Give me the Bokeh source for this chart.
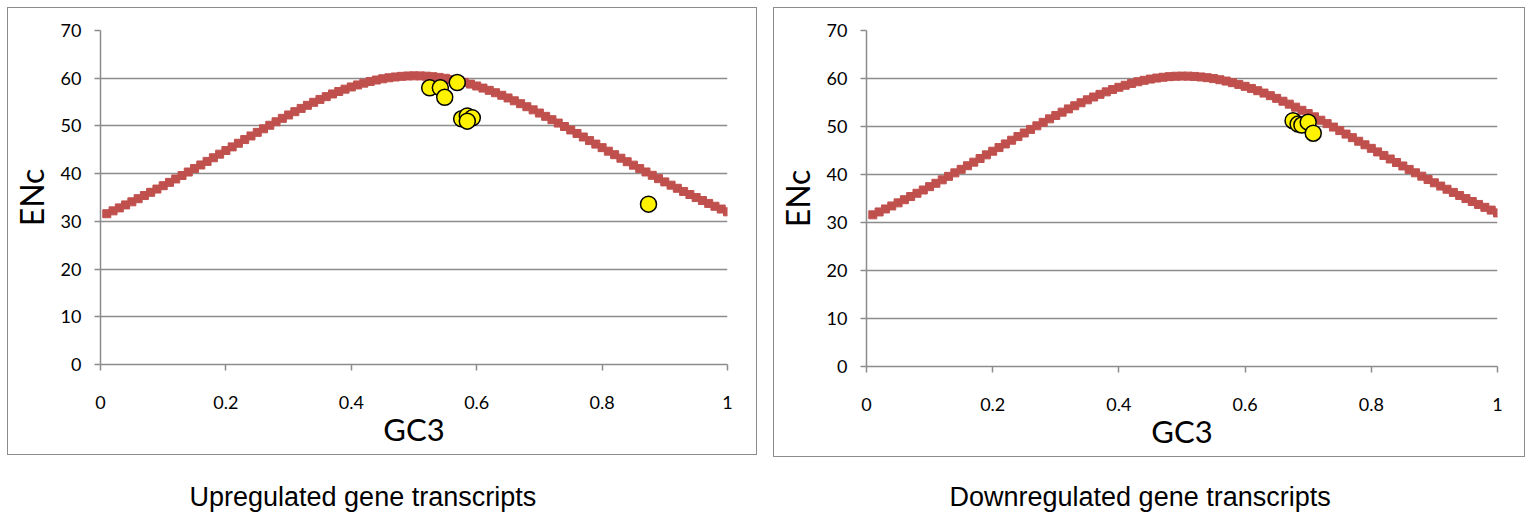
from bokeh.plotting import figure
from bokeh.layouts import column, row
from bokeh.models import Range1d, FixedTicker, Title, Spacer
from bokeh.embed import file_html
from bokeh.resources import INLINE

# Expected ENc curve (GC3, ENc)
curve_gc3 = [0.01, 0.02, 0.03, 0.04, 0.05, 0.06, 0.07, 0.08, 0.09, 0.10,
             0.11, 0.12, 0.13, 0.14, 0.15, 0.16, 0.17, 0.18, 0.19, 0.20,
             0.21, 0.22, 0.23, 0.24, 0.25, 0.26, 0.27, 0.28, 0.29, 0.30,
             0.31, 0.32, 0.33, 0.34, 0.35, 0.36, 0.37, 0.38, 0.39, 0.40,
             0.41, 0.42, 0.43, 0.44, 0.45, 0.46, 0.47, 0.48, 0.49, 0.50,
             0.51, 0.52, 0.53, 0.54, 0.55, 0.56, 0.57, 0.58, 0.59, 0.60,
             0.61, 0.62, 0.63, 0.64, 0.65, 0.66, 0.67, 0.68, 0.69, 0.70,
             0.71, 0.72, 0.73, 0.74, 0.75, 0.76, 0.77, 0.78, 0.79, 0.80,
             0.81, 0.82, 0.83, 0.84, 0.85, 0.86, 0.87, 0.88, 0.89, 0.90,
             0.91, 0.92, 0.93, 0.94, 0.95, 0.96, 0.97, 0.98, 0.99, 1.00]
curve_enc = [31.60, 32.20, 32.82, 33.45, 34.09, 34.75, 35.41, 36.09, 36.77, 37.47,
             38.17, 38.89, 39.61, 40.34, 41.08, 41.82, 42.57, 43.33, 44.09, 44.85,
             45.61, 46.37, 47.14, 47.90, 48.65, 49.40, 50.14, 50.87, 51.59, 52.30,
             52.99, 53.67, 54.32, 54.95, 55.56, 56.14, 56.70, 57.22, 57.71, 58.17,
             58.59, 58.97, 59.32, 59.62, 59.88, 60.09, 60.26, 60.39, 60.47, 60.50,
             60.49, 60.43, 60.32, 60.17, 59.98, 59.74, 59.46, 59.13, 58.77, 58.37,
             57.93, 57.46, 56.96, 56.42, 55.86, 55.27, 54.66, 54.03, 53.37, 52.70,
             52.01, 51.31, 50.60, 49.88, 49.15, 48.42, 47.68, 46.93, 46.19, 45.45,
             44.71, 43.97, 43.23, 42.50, 41.78, 41.06, 40.35, 39.65, 38.95, 38.27,
             37.59, 36.93, 36.27, 35.63, 34.99, 34.37, 33.76, 33.16, 32.58, 32.00]

# Observed genes
up_gc3 = [0.525, 0.542, 0.549, 0.569, 0.576, 0.585, 0.593, 0.585, 0.874]
up_enc = [58.0, 58.0, 56.0, 59.1, 51.5, 52.1, 51.7, 51.0, 33.6]
down_gc3 = [0.676, 0.684, 0.690, 0.700, 0.708]
down_enc = [51.2, 50.5, 50.3, 50.9, 48.6]

x_ticks = [0, 0.2, 0.4, 0.6, 0.8, 1.0]
x_tick_labels = {0: "0", 0.2: "0.2", 0.4: "0.4", 0.6: "0.6", 0.8: "0.8", 1: "1"}
y_ticks = [0, 10, 20, 30, 40, 50, 60, 70]
captions = ["Upregulated gene transcripts", "Downregulated gene transcripts"]

GRAY = "#8c8c8c"
RED = "#C0504D"
TICK_FONT = "Lato"


def panel(gx, gy, width, height, left, right, top, bottom):
    p = figure(width=width, height=height, output_backend="svg", toolbar_location=None,
               x_range=Range1d(0, 1), y_range=Range1d(0, 70),
               min_border_left=left, min_border_right=right,
               min_border_top=top, min_border_bottom=bottom,
               outline_line_color=None, background_fill_color="white",
               border_fill_color="white",
               styles={"border": "1.5px solid #8c8c8c", "box-sizing": "border-box"})
    p.xgrid.visible = False
    p.ygrid.grid_line_color = GRAY
    p.ygrid.grid_line_width = 1.5
    p.ygrid.ticker = FixedTicker(ticks=y_ticks)

    p.xaxis.ticker = FixedTicker(ticks=x_ticks)
    p.xaxis.major_label_overrides = x_tick_labels
    p.yaxis.ticker = FixedTicker(ticks=y_ticks)
    for ax in (p.xaxis, p.yaxis):
        ax.axis_line_color = GRAY
        ax.axis_line_width = 1.5
        ax.major_tick_line_color = GRAY
        ax.major_tick_line_width = 1.5
        ax.major_tick_in = 0
        ax.major_tick_out = 6
        ax.minor_tick_line_color = None
        ax.major_label_text_font = TICK_FONT
        ax.major_label_text_font_size = "18px"
        ax.major_label_text_color = "black"
        ax.axis_label_text_font = TICK_FONT
        ax.axis_label_text_font_style = "normal"
        ax.axis_label_text_color = "black"
    p.xaxis.axis_label = "GC3"
    p.xaxis.axis_label_text_font_size = "31px"
    p.xaxis.major_label_standoff = 25
    p.xaxis.axis_label_standoff = -2
    p.yaxis.axis_label = "ENc"
    p.yaxis.axis_label_text_font_size = "32px"
    p.yaxis.major_label_standoff = 13
    p.yaxis.axis_label_standoff = 7

    p.scatter(curve_gc3, curve_enc, marker="square", size=8,
              fill_color=RED, line_color=RED)
    p.scatter(gx, gy, marker="circle", size=16, fill_color="#FFF200",
              line_color="black", line_width=1.5)
    return p


def caption_fig(text, width, offset):
    c = figure(width=width, height=38, output_backend="svg", toolbar_location=None,
               x_axis_type=None, y_axis_type=None, outline_line_color=None,
               min_border=0, border_fill_color="white")
    c.title = Title(text=text, align="left", offset=offset,
                    text_font="Liberation Sans", text_font_size="27px",
                    text_font_style="normal", text_color="black", standoff=0)
    c.xgrid.visible = False
    c.ygrid.visible = False
    return c


p1 = panel(up_gc3, up_enc, 750, 448, 80, 31, 22, 90)
p2 = panel(down_gc3, down_enc, 752, 450, 80, 29, 21, 92)
c1 = caption_fig(captions[0], 750, 182)
c2 = caption_fig(captions[1], 752, 176)

layout = column(row(p1, p2, spacing=16), Spacer(height=22), row(c1, c2, spacing=16),
                spacing=0, margin=(7, 0, 0, 7))
open("out.html", "w").write(file_html(layout, INLINE))
